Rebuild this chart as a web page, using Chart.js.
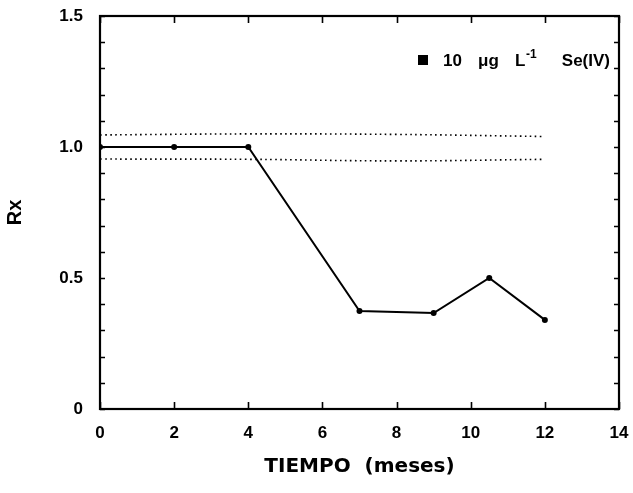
<!DOCTYPE html>
<html>
<head>
<meta charset="utf-8">
<script src="https://cdn.jsdelivr.net/npm/chart.js@4/dist/chart.umd.min.js"></script>
<style>
	html, body { margin: 0; background: #fff; }
</style>
</head>
<body>
<canvas id="chart" width="633" height="493"></canvas>
<script>
/* ----- Data ----- */

// Rx over time (months)
const months = [0, 2, 4, 7, 9, 10.5, 12];
const rx = [1.0, 1.0, 1.0, 0.374, 0.366, 0.50, 0.34];

// Dotted limits
const bandMonths = [0, 4, 8, 12];
const upperBand = [1.046, 1.05, 1.048, 1.04];
const lowerBand = [0.954, 0.953, 0.947, 0.953];

// Axis ticks
const xTicks = [0, 2, 4, 6, 8, 10, 12, 14];
const yLabels = [0, 0.5, 1.0, 1.5];

// Legend text pieces
const legendParts = ['10', '\u03bcg', 'L', '-1', 'Se(IV)'];
const seriesLabel = '10 \u03bcg L\u207b\u00b9 Se(IV)';

const fontFamily = '"Liberation Sans", Arial, sans-serif';

/* ----- Plugins ----- */

// Frame and inward ticks
const framePlugin = {
	id: 'frame',
	afterDraw(chart) {
		const { ctx, chartArea: a, scales: { x, y } } = chart;
		ctx.save();
		ctx.strokeStyle = '#000';
		ctx.lineWidth = 1.6;
		y.ticks.forEach(t => {
			const py = Math.round(y.getPixelForValue(t.value)) + 0.5;
			ctx.beginPath();
			ctx.moveTo(a.left, py); ctx.lineTo(a.left + 5, py);
			ctx.moveTo(a.right, py); ctx.lineTo(a.right - 5, py);
			ctx.stroke();
		});
		x.ticks.forEach(t => {
			const px = Math.round(x.getPixelForValue(t.value)) + 0.5;
			ctx.beginPath();
			ctx.moveTo(px, a.bottom); ctx.lineTo(px, a.bottom - 7);
			ctx.moveTo(px, a.top); ctx.lineTo(px, a.top + 7);
			ctx.stroke();
		});
		ctx.lineWidth = 2.2;
		ctx.strokeRect(a.left, a.top, a.right - a.left, a.bottom - a.top);
		ctx.restore();
	}
};

// Legend inside plot
const legendPlugin = {
	id: 'innerLegend',
	afterDraw(chart) {
		const { ctx, chartArea: a } = chart;
		const yPos = a.top + 45;
		ctx.save();
		ctx.fillStyle = '#000';
		ctx.textBaseline = 'middle';
		ctx.fillRect(a.right - 201, yPos - 6, 10, 10);
		ctx.font = 'bold 17px ' + fontFamily;
		ctx.fillText(legendParts[0], a.right - 176, yPos);
		ctx.fillText(legendParts[1], a.right - 141, yPos);
		ctx.fillText(legendParts[2], a.right - 104, yPos);
		ctx.textAlign = 'right';
		ctx.fillText(legendParts[4], a.right - 9, yPos);
		ctx.textAlign = 'left';
		ctx.font = 'bold 12px ' + fontFamily;
		ctx.fillText(legendParts[3], a.right - 93, yPos - 6);
		ctx.restore();
	}
};

/* ----- Chart ----- */

new Chart(document.getElementById('chart'), {
	type: 'line',
	data: {
		datasets: [
			{
				label: seriesLabel,
				data: months.map((m, i) => ({ x: m, y: rx[i] })),
				borderColor: '#000',
				backgroundColor: '#000',
				borderWidth: 2,
				pointRadius: 3,
				pointBorderWidth: 0,
				tension: 0
			},
			{
				label: 'upper',
				data: bandMonths.map((m, i) => ({ x: m, y: upperBand[i] })),
				borderColor: '#000',
				borderWidth: 1.6,
				borderDash: [1.6, 3.4],
				pointRadius: 0,
				tension: 0.4
			},
			{
				label: 'lower',
				data: bandMonths.map((m, i) => ({ x: m, y: lowerBand[i] })),
				borderColor: '#000',
				borderWidth: 1.6,
				borderDash: [1.6, 3.4],
				pointRadius: 0,
				tension: 0.4
			}
		]
	},
	options: {
		responsive: false,
		animation: false,
		events: [],
		layout: { padding: { top: 16, right: 14, left: 0, bottom: 0 } },
		plugins: { legend: { display: false }, tooltip: { enabled: false } },
		scales: {
			x: {
				type: 'linear',
				min: xTicks[0],
				max: xTicks[xTicks.length - 1],
				afterFit: scale => {
					scale.height = 84;
					scale.paddingLeft = 0;
					scale.paddingRight = 0;
				},
				grid: { display: false },
				border: { display: false },
				ticks: {
					stepSize: 2,
					padding: 6,
					color: '#000',
					font: { family: fontFamily, size: 17, weight: 'bold' }
				},
				title: {
					display: true,
					text: 'TIEMPO  (meses)',
					color: '#000',
					padding: { top: 0, bottom: 14 },
					font: { family: '"DejaVu Sans", sans-serif', size: 20, weight: 'bold' }
				}
			},
			y: {
				min: 0,
				max: 1.5,
				afterFit: scale => {
					scale.width = 100;
					scale.paddingTop = 0;
					scale.paddingBottom = 0;
				},
				grid: { display: false },
				border: { display: false },
				ticks: {
					stepSize: 0.1,
					autoSkip: false,
					padding: 9,
					color: '#000',
					font: { family: fontFamily, size: 17, weight: 'bold' },
					callback: v => {
						const r = Math.round(v * 10) / 10;
						if (!yLabels.includes(r)) return '';
						return r === 0 ? '0' : r.toFixed(1);
					}
				},
				title: {
					display: true,
					text: 'Rx',
					color: '#000',
					padding: { top: 3, bottom: 0 },
					font: { family: fontFamily, size: 20, weight: 'bold' }
				}
			}
		}
	},
	plugins: [framePlugin, legendPlugin]
});
</script>
</body>
</html>
